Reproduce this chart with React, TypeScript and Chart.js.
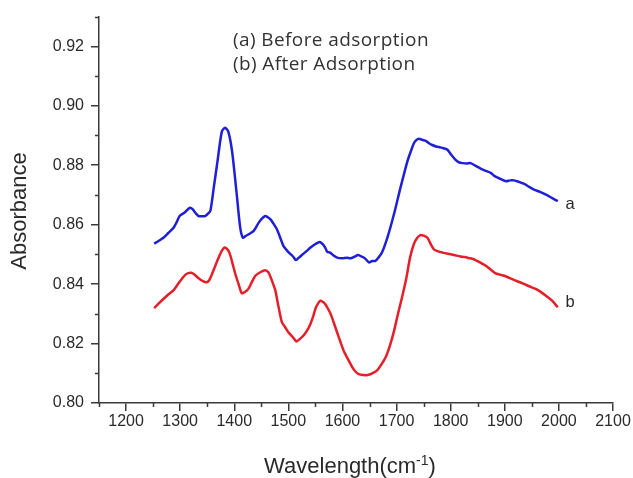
import { useEffect, useRef } from 'react';
import { Chart, registerables } from 'chart.js';

Chart.register(...registerables);

// Spectrum (a): before adsorption
const wavenumbersA = [
  1252, 1260, 1269, 1278, 1288, 1294, 1299, 1309, 1318, 1323, 1328, 1334, 1340, 1346, 1352, 1356,
  1362, 1369, 1377, 1383, 1389, 1396, 1404, 1411, 1416, 1421, 1426, 1436, 1445, 1451, 1457, 1462,
  1467, 1473, 1479, 1485, 1491, 1498, 1504, 1509, 1514, 1520, 1525, 1533, 1541, 1550, 1558, 1563,
  1568, 1572, 1577, 1583, 1590, 1600, 1608, 1615, 1622, 1629, 1634, 1640, 1645, 1649, 1655, 1661,
  1666, 1673, 1683, 1695, 1707, 1720, 1727, 1732, 1737, 1741, 1748, 1754, 1760, 1766, 1773, 1781,
  1787, 1794, 1801, 1809, 1815, 1822, 1830, 1837, 1846, 1856, 1865, 1874, 1880, 1886, 1894, 1902,
  1910, 1917, 1926, 1936, 1945, 1954, 1965, 1976, 1987, 1998,
];
const absorbanceA = [
  0.8536, 0.8545, 0.8556, 0.8572, 0.859, 0.861, 0.8629, 0.8642, 0.8657, 0.8652, 0.864, 0.8629, 0.8628, 0.8629, 0.8638, 0.8648,
  0.8723, 0.8813, 0.8913, 0.8926, 0.8913, 0.8846, 0.8712, 0.859, 0.8556, 0.8562, 0.8567, 0.8579, 0.8606, 0.862, 0.8629, 0.8625,
  0.8618, 0.8602, 0.8584, 0.8556, 0.8528, 0.8512, 0.8501, 0.8492, 0.8481, 0.849, 0.8498, 0.851, 0.8523, 0.8535, 0.8542, 0.8535,
  0.8523, 0.8508, 0.8506, 0.8497, 0.8489, 0.8487, 0.8489, 0.8487, 0.8492, 0.8498, 0.8494, 0.8489, 0.848, 0.8473, 0.8478, 0.8478,
  0.8488, 0.8506, 0.8556, 0.8634, 0.8723, 0.8813, 0.885, 0.8874, 0.8885, 0.8889, 0.8885, 0.8882, 0.8874, 0.8868, 0.8863, 0.886,
  0.8857, 0.8852, 0.8835, 0.8818, 0.881, 0.8807, 0.8806, 0.8807, 0.8798, 0.8788, 0.8781, 0.8774, 0.8765, 0.8759, 0.8752, 0.8746,
  0.8749, 0.8749, 0.8744, 0.8737, 0.8727, 0.8718, 0.871, 0.8701, 0.869, 0.8679,
];

// Spectrum (b): after adsorption
const wavenumbersB = [
  1252, 1260, 1269, 1278, 1288, 1296, 1305, 1310, 1315, 1320, 1325, 1334, 1343, 1349, 1354, 1359,
  1365, 1371, 1377, 1382, 1387, 1391, 1396, 1402, 1408, 1414, 1420, 1426, 1432, 1439, 1448, 1457,
  1463, 1467, 1472, 1476, 1482, 1488, 1494, 1500, 1508, 1515, 1521, 1528, 1535, 1541, 1546, 1550,
  1555, 1559, 1564, 1568, 1573, 1578, 1584, 1590, 1596, 1602, 1610, 1618, 1624, 1630, 1638, 1646,
  1655, 1664, 1672, 1680, 1688, 1695, 1702, 1710, 1718, 1725, 1732, 1738, 1744, 1750, 1757, 1763,
  1769, 1777, 1785, 1795, 1806, 1818, 1831, 1838, 1846, 1855, 1865, 1874, 1883, 1891, 1899, 1908,
  1917, 1927, 1936, 1946, 1957, 1967, 1976, 1987, 1998,
];
const absorbanceB = [
  0.8319, 0.8334, 0.835, 0.8365, 0.838, 0.84, 0.8422, 0.8432, 0.8437, 0.8438, 0.8434, 0.842, 0.8409, 0.8406, 0.8414, 0.8434,
  0.8462, 0.8489, 0.8512, 0.8523, 0.8518, 0.8506, 0.8475, 0.8434, 0.84, 0.8369, 0.8374, 0.8384, 0.8405, 0.8428, 0.844, 0.8447,
  0.844, 0.8424, 0.84, 0.8378, 0.8322, 0.8272, 0.8255, 0.8238, 0.8222, 0.8207, 0.8215, 0.8227, 0.8245, 0.8267, 0.8292, 0.8317,
  0.8335, 0.8344, 0.834, 0.8333, 0.8318, 0.83, 0.827, 0.8238, 0.8207, 0.8177, 0.8148, 0.8121, 0.8106, 0.8097, 0.8094, 0.8094,
  0.81, 0.811, 0.813, 0.8155, 0.8195, 0.824, 0.8295, 0.8355, 0.842, 0.849, 0.8535, 0.8555, 0.8565, 0.8563, 0.8556, 0.8535,
  0.8517, 0.851, 0.8506, 0.8502, 0.8498, 0.8493, 0.8489, 0.8486, 0.8481, 0.8472, 0.8462, 0.8449, 0.8436, 0.8432, 0.8428, 0.8421,
  0.8414, 0.8407, 0.84, 0.8392, 0.8384, 0.8373, 0.8361, 0.8345, 0.8322,
];

const xMajorTicks = [1200, 1300, 1400, 1500, 1600, 1700, 1800, 1900, 2000, 2100];
const xMinorTicks = [1150, 1250, 1350, 1450, 1550, 1650, 1750, 1850, 1950, 2050];
const yMajorTicks = [0.8, 0.82, 0.84, 0.86, 0.88, 0.9, 0.92];
const yMinorTicks = [0.81, 0.83, 0.85, 0.87, 0.89, 0.91, 0.93];

const legendLines = ['(a) Before adsorption', '(b) After Adsorption'];
const curveLabels = ['a', 'b'];
const curveLabelX = 2012;
const curveLabelY = [0.8669, 0.8337];

const yTitle = 'Absorbance';
const xTitleMain = 'Wavelength(cm';
const xTitleSup = '-1';
const xTitleEnd = ')';

const AXIS_COLOR = '#3a3a3a';
const TEXT_COLOR = '#2a2a2a';
const BLUE = '#1f1fd8';
const RED = '#e41f2a';

const decorations = {
  id: 'decorations',
  afterDraw(chart: any) {
    const { ctx, scales } = chart;
    const xs = scales.x;
    const ys = scales.y;
    const area = chart.chartArea;
    ctx.save();

    // minor ticks
    ctx.strokeStyle = AXIS_COLOR;
    ctx.lineWidth = 1.5;
    ctx.beginPath();
    xMinorTicks.forEach((v) => {
      const px = Math.round(xs.getPixelForValue(v)) + 0.5;
      ctx.moveTo(px, area.bottom);
      ctx.lineTo(px, area.bottom + 4);
    });
    yMinorTicks.forEach((v) => {
      const py = Math.round(ys.getPixelForValue(v)) + 0.5;
      ctx.moveTo(area.left, py);
      ctx.lineTo(area.left - 4, py);
    });
    ctx.stroke();

    // legend text block
    ctx.save();
    ctx.fillStyle = '#333';
    ctx.font = '19px "Open Sans", Lato, sans-serif';
    (ctx as any).letterSpacing = '0.4px';
    ctx.textAlign = 'left';
    ctx.textBaseline = 'alphabetic';
    legendLines.forEach((t, i) => {
      ctx.fillText(t, 233, 46 + i * 24);
    });
    ctx.restore();

    // curve end labels
    ctx.fillStyle = TEXT_COLOR;
    ctx.font = '16.5px "Liberation Sans", Arial, sans-serif';
    ctx.textBaseline = 'middle';
    curveLabels.forEach((t, i) => {
      ctx.fillText(t, xs.getPixelForValue(curveLabelX), ys.getPixelForValue(curveLabelY[i]));
    });

    // y-axis title
    ctx.save();
    ctx.font = '22px "Liberation Sans", Arial, sans-serif';
    ctx.translate(20, 211);
    ctx.rotate(-Math.PI / 2);
    ctx.textAlign = 'center';
    ctx.textBaseline = 'middle';
    ctx.fillText(yTitle, 0, 0);
    ctx.restore();

    // x-axis title with superscript
    const mainFont = '22px "Liberation Sans", Arial, sans-serif';
    const supFont = '14px "Liberation Sans", Arial, sans-serif';
    ctx.textAlign = 'left';
    ctx.textBaseline = 'alphabetic';
    ctx.font = mainFont;
    const w1 = ctx.measureText(xTitleMain).width;
    const w3 = ctx.measureText(xTitleEnd).width;
    ctx.font = supFont;
    const w2 = ctx.measureText(xTitleSup).width;
    const total = w1 + w2 + w3;
    let x0 = 350 - total / 2;
    const base = 473;
    ctx.font = mainFont;
    ctx.fillText(xTitleMain, x0, base);
    x0 += w1;
    ctx.font = supFont;
    ctx.fillText(xTitleSup, x0, base - 8);
    x0 += w2;
    ctx.font = mainFont;
    ctx.fillText(xTitleEnd, x0, base);

    ctx.restore();
  },
};

export default function App() {
  const canvasRef = useRef<HTMLCanvasElement | null>(null);

  useEffect(() => {
    const canvas = canvasRef.current;
    if (!canvas) return;
    const chart = new Chart(canvas, {
      type: 'line',
      data: {
        datasets: [
          {
            label: 'a',
            data: wavenumbersA.map((x, i) => ({ x, y: absorbanceA[i] })),
            borderColor: BLUE,
            borderWidth: 2.5,
            pointRadius: 0,
            tension: 0.25,
          },
          {
            label: 'b',
            data: wavenumbersB.map((x, i) => ({ x, y: absorbanceB[i] })),
            borderColor: RED,
            borderWidth: 2.5,
            pointRadius: 0,
            tension: 0.25,
          },
        ],
      },
      options: {
        animation: false,
        responsive: false,
        events: [],
        layout: { padding: { top: 13, right: 20, left: 0, bottom: 0 } },
        plugins: { legend: { display: false }, tooltip: { enabled: false } },
        scales: {
          x: {
            type: 'linear',
            min: 1150,
            max: 2100,
            afterBuildTicks: (scale: any) => {
              scale.ticks = xMajorTicks.map((value) => ({ value }));
            },
            afterFit: (scale: any) => {
              scale.height = 75;
            },
            grid: {
              drawOnChartArea: false,
              drawTicks: true,
              tickLength: 8,
              color: AXIS_COLOR,
              tickColor: AXIS_COLOR,
              lineWidth: 1.5,
            },
            border: { color: AXIS_COLOR, width: 1.5 },
            ticks: {
              color: TEXT_COLOR,
              font: { family: '"Liberation Sans", Arial, sans-serif', size: 16 },
              padding: 1,
              maxRotation: 0,
              autoSkip: false,
              callback: (v: any) => String(v),
            },
          },
          y: {
            type: 'linear',
            min: 0.8,
            max: 0.93,
            afterBuildTicks: (scale: any) => {
              scale.ticks = yMajorTicks.map((value) => ({ value }));
            },
            afterFit: (scale: any) => {
              scale.width = 99;
            },
            grid: {
              drawOnChartArea: false,
              drawTicks: true,
              tickLength: 8,
              color: AXIS_COLOR,
              tickColor: AXIS_COLOR,
              lineWidth: 1.5,
            },
            border: { color: AXIS_COLOR, width: 1.5 },
            ticks: {
              color: TEXT_COLOR,
              font: { family: '"Liberation Sans", Arial, sans-serif', size: 16 },
              padding: 7,
              autoSkip: false,
              callback: (v: any) => Number(v).toFixed(2),
            },
          },
        },
      },
      plugins: [decorations],
    });
    return () => chart.destroy();
  }, []);

  return (
    <div style={{ position: 'absolute', left: 0, top: 0, width: 633, height: 478, background: '#fff' }}>
      <canvas ref={canvasRef} width={633} height={478} style={{ display: 'block' }} />
    </div>
  );
}
